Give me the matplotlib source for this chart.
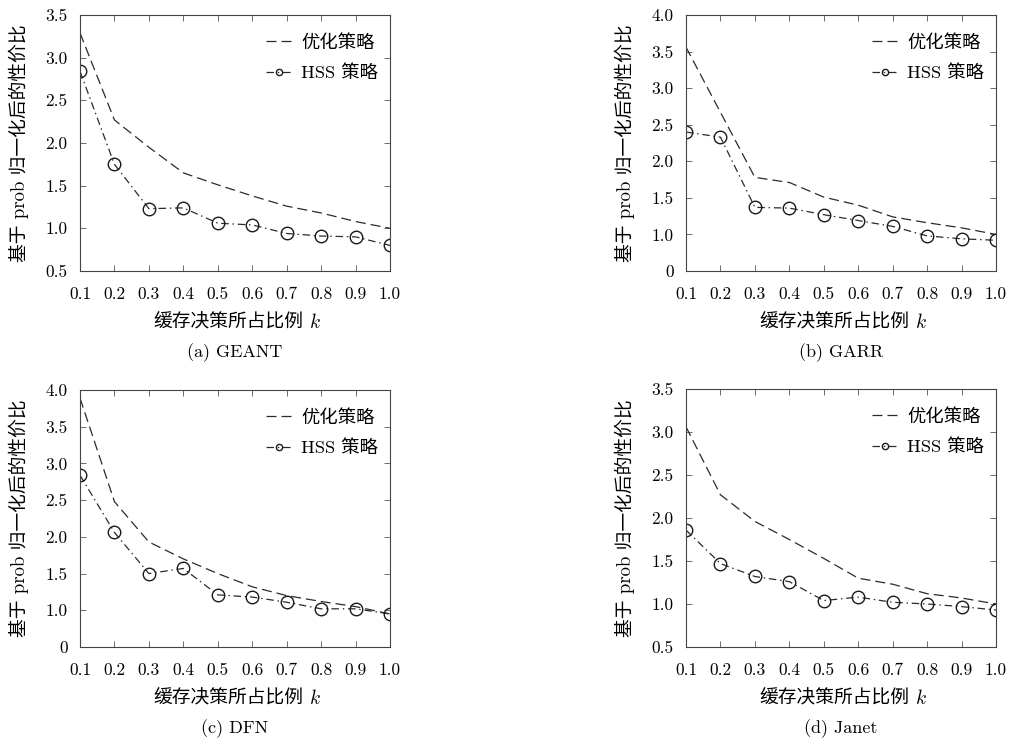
import matplotlib

matplotlib.use("Agg")
import matplotlib.pyplot as plt

plt.rcParams["font.family"] = ["cmr10", "Noto Sans CJK SC"]
plt.rcParams["mathtext.fontset"] = "cm"
plt.rcParams["axes.formatter.use_mathtext"] = True
plt.rcParams["axes.unicode_minus"] = False

k_values = [0.1, 0.2, 0.3, 0.4, 0.5, 0.6, 0.7, 0.8, 0.9, 1.0]
x_ticklabels = ["0.1", "0.2", "0.3", "0.4", "0.5", "0.6", "0.7", "0.8", "0.9", "1.0"]

captions = ["(a) GEANT", "(b) GARR", "(c) DFN", "(d) Janet"]
series_names = ["优化策略", "HSS 策略"]
x_title = "缓存决策所占比例"
y_title = "基于 prob 归一化后的性价比"

opt_geant = [3.29, 2.27, 1.95, 1.65, 1.51, 1.38, 1.26, 1.18, 1.08, 1.00]
hss_geant = [2.84, 1.75, 1.23, 1.24, 1.06, 1.04, 0.94, 0.91, 0.90, 0.80]

opt_garr = [3.56, 2.67, 1.78, 1.71, 1.51, 1.40, 1.24, 1.16, 1.09, 1.00]
hss_garr = [2.40, 2.33, 1.37, 1.36, 1.27, 1.19, 1.11, 0.98, 0.94, 0.92]

opt_dfn = [3.89, 2.48, 1.93, 1.70, 1.50, 1.32, 1.20, 1.12, 1.05, 0.95]
hss_dfn = [2.84, 2.06, 1.50, 1.57, 1.21, 1.18, 1.11, 1.02, 1.02, 0.95]

opt_janet = [3.06, 2.27, 1.96, 1.75, 1.53, 1.30, 1.23, 1.12, 1.07, 1.00]
hss_janet = [1.86, 1.47, 1.32, 1.26, 1.04, 1.08, 1.02, 1.00, 0.97, 0.93]

yticks_a = [0.5, 1.0, 1.5, 2.0, 2.5, 3.0, 3.5]
ylabels_a = ["0.5", "1.0", "1.5", "2.0", "2.5", "3.0", "3.5"]
yticks_b = [0.5, 1.0, 1.5, 2.0, 2.5, 3.0, 3.5, 4.0]
ylabels_b = ["0", "1.0", "1.5", "2.0", "2.5", "3.0", "3.5", "4.0"]

panels = [
    (opt_geant, hss_geant, yticks_a, ylabels_a),
    (opt_garr, hss_garr, yticks_b, ylabels_b),
    (opt_dfn, hss_dfn, yticks_b, ylabels_b),
    (opt_janet, hss_janet, yticks_a, ylabels_a),
]

W, H = 1010, 742
# axes boxes in pixels: left, top, width, height
boxes = [(80, 15, 310, 256), (686, 15, 310, 256), (80, 390, 310, 257), (686, 389, 310, 258)]

fig = plt.figure(figsize=(W / 100, H / 100), dpi=100)
line_color = "#2b2b2b"


def px(x, y):
    return x / W, 1 - y / H


for (opt, hss, yt, yl), (x0, y0, w, h), cap in zip(panels, boxes, captions):
    ax = fig.add_axes([x0 / W, 1 - (y0 + h) / H, w / W, h / H])
    ax.plot(k_values, opt, linestyle=(0, (8, 4)), color=line_color, linewidth=0.9,
            label=series_names[0])
    ax.plot(k_values, hss, linestyle=(0, (6, 3, 1.2, 3)), color=line_color, linewidth=0.9,
            marker="o", markersize=9, markerfacecolor="none", markeredgewidth=1.0,
            markeredgecolor="#1a1a1a", label=series_names[1])
    ax.set_xlim(0.1, 1.0)
    ax.set_ylim(yt[0], yt[-1])
    ax.set_xticks(k_values)
    ax.set_xticklabels(x_ticklabels)
    ax.set_yticks(yt)
    ax.set_yticklabels(yl)
    ax.tick_params(direction="in", top=True, right=True, length=4, width=0.6,
                   color="#555555", labelsize=12.5)
    ax.tick_params(axis="x", pad=11)
    ax.tick_params(axis="y", pad=9)
    for spine in ax.spines.values():
        spine.set_linewidth(0.8)
        spine.set_color("#444444")

    cx = x0 + w / 2
    bottom = y0 + h
    fig.text(*px(cx + 68, bottom + 52), x_title, ha="right", va="center", fontsize=13.5)
    fig.text(*px(cx + 74, bottom + 51), "$k$", ha="left", va="center", fontsize=14)
    fig.text(*px(cx, bottom + 82), cap, ha="center", va="center", fontsize=13)
    fig.text(*px(x0 - 61, y0 + h / 2), y_title, ha="center", va="center",
             rotation=90, fontsize=13.5)

    ax.legend(loc="upper right", frameon=False, fontsize=13.2, handlelength=1.4,
              markerscale=0.5, labelspacing=0.75, borderaxespad=0.0, handletextpad=0.5,
              bbox_to_anchor=(0.985, 0.955))

fig.savefig("out.png", dpi=100)
